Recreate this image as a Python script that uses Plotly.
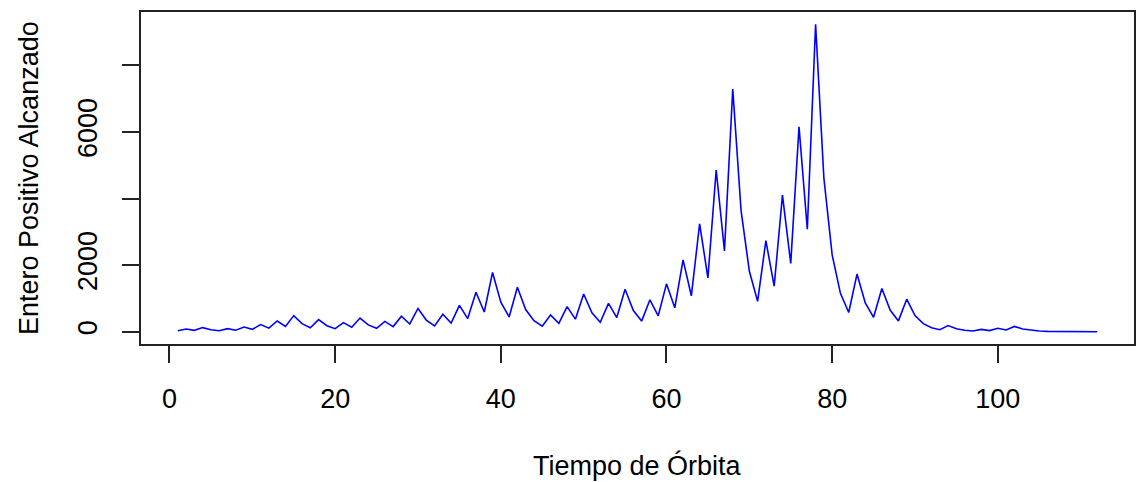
import plotly.graph_objects as go

valores = [27, 82, 41, 124, 62, 31, 94, 47, 142, 71, 214, 107, 322, 161, 484, 242, 121, 364,
           182, 91, 274, 137, 412, 206, 103, 310, 155, 466, 233, 700, 350, 175, 526, 263, 790,
           395, 1186, 593, 1780, 890, 445, 1336, 668, 334, 167, 502, 251, 754, 377, 1132, 566,
           283, 850, 425, 1276, 638, 319, 958, 479, 1438, 719, 2158, 1079, 3238, 1619, 4858,
           2429, 7288, 3644, 1822, 911, 2734, 1367, 4102, 2051, 6154, 3077, 9232, 4616, 2308,
           1154, 577, 1732, 866, 433, 1300, 650, 325, 976, 488, 244, 122, 61, 184, 92, 46, 23,
           70, 35, 106, 53, 160, 80, 40, 20, 10, 5, 16, 8, 4, 2, 1]
tiempo = list(range(1, len(valores) + 1))

x_ticks = [0, 20, 40, 60, 80, 100]
y_ticks = [0, 2000, 4000, 6000, 8000]
y_ticktext = ["0", "2000", "", "6000", ""]

FONT = "Liberation Sans, Arial, sans-serif"
FS = 27

fig = go.Figure()
fig.add_trace(go.Scatter(x=tiempo, y=valores, mode="lines",
                         line=dict(color="#0000FF", width=1.6), showlegend=False))

ymin, ymax = min(valores), max(valores)
yr = (ymax - ymin) * 0.04
xmin, xmax = min(tiempo), max(tiempo)
xr = (xmax - xmin) * 0.04

fig.update_layout(
    width=1138, height=482,
    margin=dict(l=141, r=4, t=12, b=138, autoexpand=False),
    paper_bgcolor="white", plot_bgcolor="white",
    font=dict(family=FONT, size=FS, color="black"),
    xaxis=dict(range=[xmin - xr, xmax + xr], tickvals=x_ticks, ticks="outside",
               ticklen=17, tickwidth=1.5, tickcolor="#222", showline=True, linecolor="#222",
               linewidth=1.5, mirror=True, showgrid=False, zeroline=False, automargin=False,
               ticklabelstandoff=13, tickfont=dict(size=FS)),
    yaxis=dict(range=[ymin - yr, ymax + yr], tickvals=y_ticks, ticktext=y_ticktext,
               ticks="outside", ticklen=17, tickwidth=1.5, tickcolor="#222",
               showline=True, linecolor="#222", linewidth=1.5, mirror=True, automargin=False,
               showgrid=False, zeroline=False, tickangle=-90, ticklabelstandoff=14,
               tickfont=dict(size=FS)),
)
fig.add_annotation(text="Tiempo de Órbita", xref="paper", yref="paper", x=0.5, y=0,
                   xanchor="center", yanchor="middle", yshift=-121, showarrow=False,
                   font=dict(size=FS))
fig.add_annotation(text="Entero Positivo Alcanzado", xref="paper", yref="paper", x=0,
                   y=0.5, xanchor="center", yanchor="middle", xshift=-112, textangle=-90,
                   showarrow=False, font=dict(size=FS))

fig.write_html("out.html", config={"displayModeBar": False},
               post_script="document.body.style.margin='0';document.body.style.overflow='hidden';")
